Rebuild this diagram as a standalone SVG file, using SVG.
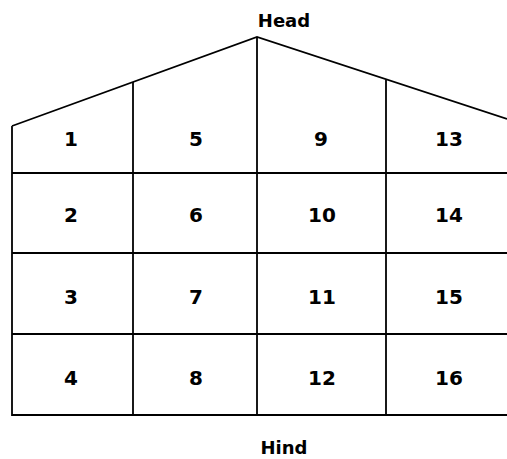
<svg xmlns="http://www.w3.org/2000/svg" width="507" height="459" viewBox="0 0 507 459">
<style>
.ln{fill:none;stroke:#000;stroke-width:1.8;stroke-linejoin:miter}
.t{font-family:"DejaVu Sans",sans-serif;font-size:20px;font-weight:bold;text-anchor:middle;fill:#000}
.lb{font-family:"DejaVu Sans",sans-serif;font-size:18px;font-weight:bold;text-anchor:middle;fill:#000}
</style>
<rect width="507" height="459" fill="#fff"/>
<g id="outline">
<path class="ln" d="M12,126 L257,37 L507,119 M12,126 L12,415 L507,415"/>
</g>
<g id="connectors">
<line class="ln" x1="133" y1="82" x2="133" y2="415"/>
<line class="ln" x1="257" y1="37" x2="257" y2="415"/>
<line class="ln" x1="386" y1="80" x2="386" y2="415"/>
<line class="ln" x1="12" y1="173" x2="507" y2="173"/>
<line class="ln" x1="12" y1="253" x2="507" y2="253"/>
<line class="ln" x1="12" y1="334" x2="507" y2="334"/>
</g>
<g id="head"><text class="lb" x="284" y="27">Head</text></g>
<g id="hind"><text class="lb" x="284" y="454">Hind</text></g>
<g id="c1"><text class="t" x="71" y="146">1</text></g>
<g id="c2"><text class="t" x="71" y="222">2</text></g>
<g id="c3"><text class="t" x="71" y="304">3</text></g>
<g id="c4"><text class="t" x="71" y="385">4</text></g>
<g id="c5"><text class="t" x="196" y="146">5</text></g>
<g id="c6"><text class="t" x="196" y="222">6</text></g>
<g id="c7"><text class="t" x="196" y="304">7</text></g>
<g id="c8"><text class="t" x="196" y="385">8</text></g>
<g id="c9"><text class="t" x="321" y="146">9</text></g>
<g id="c10"><text class="t" x="322" y="222">10</text></g>
<g id="c11"><text class="t" x="322" y="304">11</text></g>
<g id="c12"><text class="t" x="322" y="385">12</text></g>
<g id="c13"><text class="t" x="449" y="146">13</text></g>
<g id="c14"><text class="t" x="449" y="222">14</text></g>
<g id="c15"><text class="t" x="449" y="304">15</text></g>
<g id="c16"><text class="t" x="449" y="385">16</text></g>
</svg>
